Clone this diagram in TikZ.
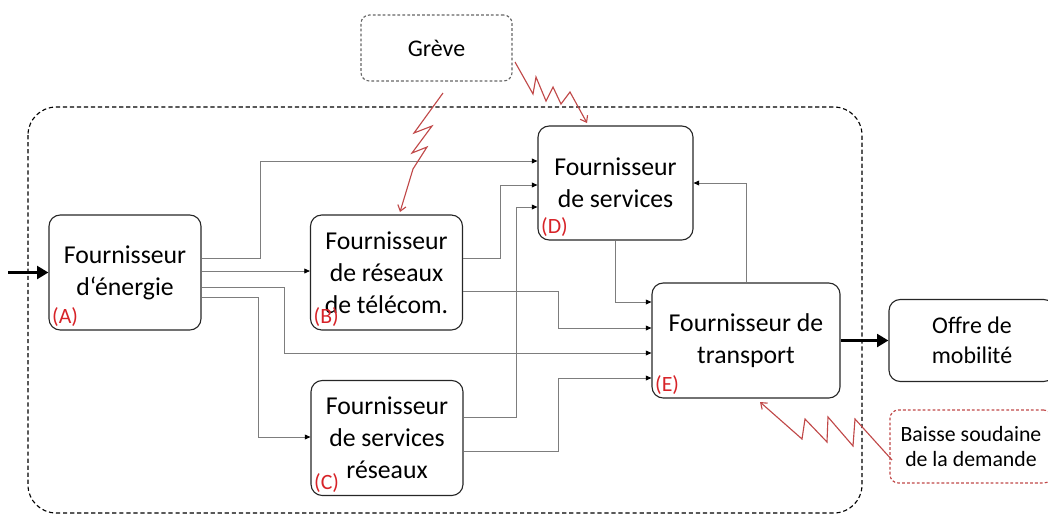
\documentclass[tikz,border=0pt]{standalone}
\usepackage{fontspec}
\setmainfont{Carlito}
\usetikzlibrary{arrows.meta}

\definecolor{trait}{RGB}{125,125,125}
\definecolor{rougeeclair}{RGB}{192,72,72}
\definecolor{rougerepere}{RGB}{215,35,40}

\begin{document}
\begin{tikzpicture}[x=0.025cm, y=-0.025cm, >=Stealth,
    every node/.style={font=\fontsize{18.3}{22.8}\selectfont},
    acteur/.style={draw=black!85, line width=0.8pt, rounded corners=8pt, align=center, inner sep=0pt,
        minimum width=3.8cm, minimum height=2.875cm},
    alea/.style={rounded corners=6pt, align=center, inner sep=0pt, line width=0.8pt,
        dash pattern=on 2pt off 1.5pt},
    repere/.style={text=rougerepere, font=\fontsize{15.5}{17}\selectfont, anchor=south west, inner sep=1.5pt},
    lien/.style={draw=trait, line width=0.6pt, -{Triangle[length=4pt, width=3.5pt, black]}},
    flux/.style={line width=2.6pt, -{Triangle[length=8pt, width=9pt]}},
    eclair/.style={draw=rougeeclair, line width=0.8pt, line join=miter, -{Straight Barb[length=4pt, width=6pt]}}]
    \useasboundingbox (0,0) rectangle (1048,515);

    % Limite du systeme
    \draw[line width=0.8pt, dash pattern=on 3pt off 2pt, rounded corners=20pt] (28,107) rectangle (862,513);

    % Acteurs
    \node[acteur] (A) at (125,272.5) {Fournisseur\\d‘énergie};
    \node[acteur] (B) at (386.5,272.5) {Fournisseur\\de réseaux\\de télécom.};
    \node[acteur] (C) at (387,438) {Fournisseur\\de services\\réseaux};
    \node[acteur, minimum width=3.875cm, minimum height=2.85cm] (D) at (615.5,183) {Fournisseur\\de services};
    \node[acteur, minimum width=4.7cm] (E) at (746,340.5) {Fournisseur de\\transport};
    \node[acteur, minimum width=4.15cm, minimum height=2.05cm, font=\fontsize{17}{21.3}\selectfont] (offre) at (972,340.5) {Offre de\\mobilité};

    % Reperes
    \node[repere] (tagA) at ([shift={(1pt,1pt)}]A.south west) {(A)};
    \node[repere] (tagB) at ([shift={(1pt,1pt)}]B.south west) {(B)};
    \node[repere] (tagC) at ([shift={(1pt,1pt)}]C.south west) {(C)};
    \node[repere] (tagD) at ([shift={(1pt,1pt)}]D.south west) {(D)};
    \node[repere] (tagE) at ([shift={(1pt,1pt)}]E.south west) {(E)};

    % Perturbations
    \node[alea, draw=black!60, minimum width=3.775cm, minimum height=1.65cm,
        font=\fontsize{17}{21}\selectfont] (greve) at (436.5,48) {Grève};
    \node[alea, draw=rougeeclair, minimum width=4.05cm, minimum height=1.825cm,
        font=\fontsize{15.5}{17.8}\selectfont] (baisse) at (971,446.5) {Baisse soudaine\\de la demande};

    % Flux d'entree et de sortie
    \coordinate (entree) at (8,272.5);
    \draw[flux] (entree) -- (A.west);
    \draw[flux] (E.east) -- (offre.west);

    % Liens entre acteurs
    \draw[lien] (A.east |- 0,258) -| (260,161) -- (D.west |- 0,161);
    \draw[lien] (A.east |- 0,271) -- (B.west |- 0,271);
    \draw[lien] (A.east |- 0,287) -| (284,353) -- (E.west |- 0,353);
    \draw[lien] (A.east |- 0,297) -| (258,437) -- (C.west |- 0,437);
    \draw[lien] (B.east |- 0,258) -| (500,185) -- (D.west |- 0,185);
    \draw[lien] (B.east |- 0,291) -| (558,328) -- (E.west |- 0,328);
    \draw[lien] (C.east |- 0,417) -| (516,207) -- (D.west |- 0,207);
    \draw[lien] (C.east |- 0,451) -| (558,378) -- (E.west |- 0,378);
    \draw[lien] (D.south) |- (E.west |- 0,302);
    \draw[lien] (E.north) |- (D.east);

    % Eclairs (greve, baisse de la demande)
    \coordinate (greveSud) at (443,93);
    \coordinate (cibleB) at (400,212);
    \draw[eclair] (greveSud) -- ++(-29,40) -- ++(18,-7) -- ++(-20,27) -- ++(15,-6) -- ++(-14,22) -- (cibleB);
    \coordinate (greveEst) at (515,62);
    \coordinate (cibleD) at (587,123);
    \draw[eclair] (greveEst) -- ++(18,32) -- ++(3,-17) -- ++(10,24) -- ++(7,-14) -- ++(8,17) -- ++(9,-12) -- (cibleD);
    \coordinate (baisseOuest) at (892,460);
    \coordinate (cibleE) at (760,402);
    \draw[eclair] (baisseOuest) -- ++(-37,-41) -- ++(-2,27) -- ++(-25,-29) -- ++(-1,25) -- ++(-22,-23) -- ++(-3,20) -- (cibleE);
\end{tikzpicture}
\end{document}
